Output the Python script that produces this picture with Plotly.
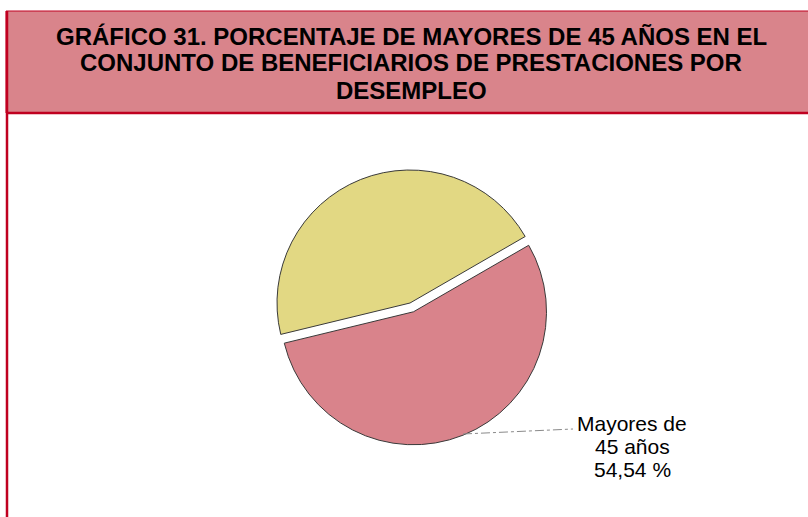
import plotly.graph_objects as go

W, H = 808, 517

# Data
labels = ["Mayores de 45 años", "Resto"]
values = [54.54, 45.46]
slice_colors = ["#D9838B", "#E2D883"]
pulls = [0.071, 0]

title_lines = [
    "GRÁFICO 31. PORCENTAJE DE MAYORES DE 45 AÑOS EN EL",
    "CONJUNTO DE BENEFICIARIOS DE PRESTACIONES POR",
    "DESEMPLEO",
]
label_lines = ["Mayores de", "45 años", "54,54 %"]

def px(x):
    return x / W

def py(y):
    return 1 - y / H

# pie geometry (pixels)
cx, cy, r = 410, 303, 133
half = r * (1 + max(pulls))

fig = go.Figure()
fig.add_trace(go.Pie(
    labels=labels,
    values=values,
    sort=False,
    direction="clockwise",
    rotation=60,
    pull=pulls,
    marker=dict(colors=slice_colors, line=dict(color="#3a3a3a", width=1)),
    textinfo="none",
    hoverinfo="label+percent",
    showlegend=False,
    domain=dict(x=[px(cx - half), px(cx + half)], y=[py(cy + half), py(cy - half)]),
))

border = "#C00020"
shapes = [
    dict(type="rect", xref="paper", yref="paper", x0=px(6), x1=px(812), y0=py(11), y1=py(113),
         fillcolor="#D9848B", line=dict(color=border, width=1), layer="below"),
    dict(type="line", xref="paper", yref="paper", x0=px(6), x1=px(812), y0=py(113), y1=py(113),
         line=dict(color=border, width=2.5)),
    dict(type="line", xref="paper", yref="paper", x0=px(7), x1=px(7), y0=py(11), y1=py(520),
         line=dict(color=border, width=2.5)),
    dict(type="line", xref="paper", yref="paper", x0=px(463), x1=px(573), y0=py(434), y1=py(429),
         line=dict(color="#8a8a8a", width=1, dash="dashdot")),
]

annotations = []
for i, t in enumerate(title_lines):
    annotations.append(dict(
        text="<b>" + t + "</b>", xref="paper", yref="paper", x=px(411), y=py(36 + 27 * i),
        xanchor="center", yanchor="middle", showarrow=False,
        font=dict(family="Liberation Sans, Arial", size=24, color="#000000")))
for i, t in enumerate(label_lines):
    annotations.append(dict(
        text=t, xref="paper", yref="paper", x=px(632), y=py(423 + 23 * i),
        xanchor="center", yanchor="middle", showarrow=False,
        font=dict(family="Liberation Sans, Arial", size=21, color="#000000")))

fig.update_layout(
    width=W, height=H,
    margin=dict(l=0, r=0, t=0, b=0),
    paper_bgcolor="white",
    plot_bgcolor="white",
    shapes=shapes,
    annotations=annotations,
)

fig.write_html("out.html", config={"displayModeBar": False},
               post_script="document.body.style.margin='0px';")
